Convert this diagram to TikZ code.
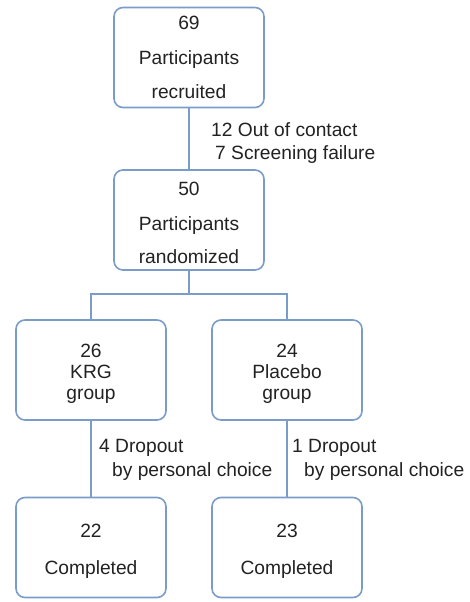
\documentclass[tikz,border=0pt]{standalone}
\usepackage{fontspec}
\setmainfont{Liberation Sans}
\definecolor{boxblue}{HTML}{7B9CC8}
\definecolor{txt}{HTML}{222222}
\newcommand\lowtop{\rule{0pt}{20pt}}
\begin{document}
\begin{tikzpicture}[x=1pt,y=-1pt,
  stagebox/.style={draw=boxblue,line width=1.6pt,rounded corners=9pt,minimum width=150pt,minimum height=100pt,
    align=center,text=txt,inner sep=0pt,font=\fontsize{19.2}{21}\selectfont},
  conn/.style={draw=boxblue,line width=1.6pt},
  note/.style={anchor=west,text=txt,inner sep=0pt,font=\fontsize{19.2}{21}\selectfont}]
\useasboundingbox (0,0) rectangle (470,602);
\node[stagebox] (rec) at (189,57.5) {69\\[14pt]Participants\\[13pt]recruited};
\node[stagebox] (rand) at (189,220) {\lowtop 50\\[14pt]Participants\\[12pt]randomized};
\node[stagebox] (krg) at (91,370) {\lowtop 26\\KRG\\group};
\node[stagebox] (pla) at (287,370) {\lowtop 24\\Placebo\\group};
\node[stagebox] (kc) at (91,547.5) {\lowtop 22\\[16pt]Completed};
\node[stagebox] (pc) at (287,547.5) {\lowtop 23\\[16pt]Completed};
\coordinate (split) at (189,294);
\draw[conn] (rec) -- (rand);
\draw[conn] (rand.south) -- (split);
\draw[conn] (krg.north) |- (split) -| (pla.north);
\draw[conn] (krg) -- (kc);
\draw[conn] (pla) -- (pc);
\node[note] (n1) at (211,130) {12 Out of contact};
\node[note] (n2) at (215,155) {7 Screening failure};
\node[note] (n3) at (99,448) {4 Dropout};
\node[note] (n4) at (112,472) {by personal choice};
\node[note] (n5) at (292,448) {1 Dropout};
\node[note] (n6) at (304,472) {by personal choice};
\end{tikzpicture}
\end{document}
